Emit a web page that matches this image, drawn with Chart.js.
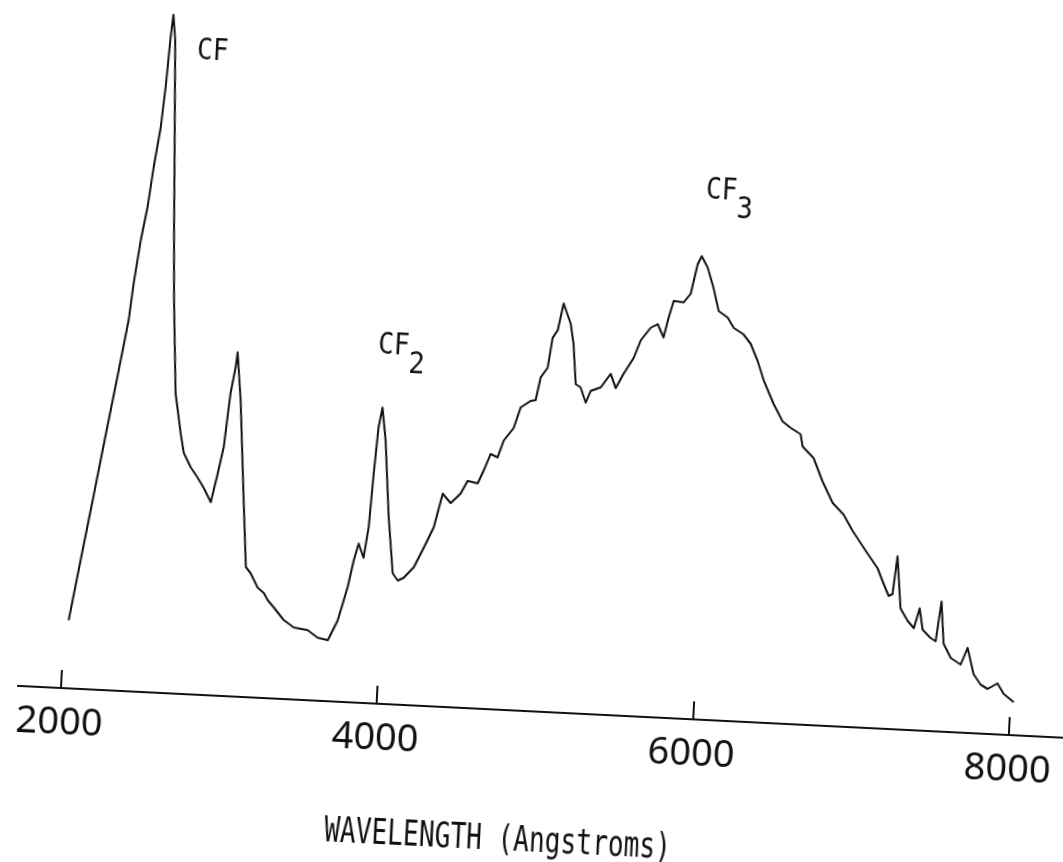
<!DOCTYPE html>
<html>
<head>
<meta charset="utf-8">
<title>CF emission spectrum</title>
<script src="https://cdn.jsdelivr.net/npm/chart.js@4.4.1/dist/chart.umd.min.js"></script>
<style>
html, body { margin: 0; padding: 0; background: #fff; overflow: hidden; width: 1063px; height: 862px; }
/* the scanned plot sits slightly tilted, so the whole canvas is turned about the 2000 tick */
#spectrum { position: absolute; left: 0; top: 0; width: 1120px; height: 880px;
  transform-origin: 60.7px 688px; transform: rotate(2.84deg); }
</style>
</head>
<body>
<canvas id="spectrum" width="1120" height="880"></canvas>
<script>
// wavelength in Angstroms, intensity in arbitrary units (height above the axis)
var wavelength = [2029, 2086, 2143, 2200, 2257, 2314, 2334, 2365, 2398, 2424,
	2456, 2475, 2490, 2501, 2520, 2546, 2573, 2594, 2633, 2678,
	2703, 2751, 2798, 2840, 2889, 2924, 2954, 2980, 3004, 3012,
	3046, 3096, 3131, 3163, 3212, 3252, 3279, 3320, 3386, 3452,
	3541, 3606, 3671, 3727, 3780, 3810, 3836, 3871, 3894, 3909,
	3925, 3944, 3974, 4017, 4060, 4094, 4130, 4191, 4248, 4305,
	4351, 4404, 4464, 4504, 4568, 4602, 4641, 4686, 4719, 4778,
	4816, 4877, 4908, 4933, 4974, 4996, 5026, 5055, 5106, 5130,
	5156, 5188, 5225, 5253, 5315, 5374, 5410, 5456, 5514, 5553,
	5612, 5655, 5696, 5722, 5749, 5812, 5854, 5889, 5912, 5953,
	5996, 6036, 6095, 6136, 6200, 6248, 6298, 6342, 6412, 6474,
	6527, 6592, 6608, 6681, 6745, 6816, 6888, 6951, 7053, 7120,
	7162, 7198, 7222, 7242, 7277, 7326, 7367, 7398, 7423, 7476,
	7509, 7534, 7560, 7610, 7674, 7713, 7759, 7806, 7852, 7913,
	7954, 8021];
var intensity = [68, 129, 189, 250, 310, 371, 408, 451, 485, 525,
	565, 607, 655, 678, 653, 560, 460, 393, 300, 260,
	241, 227, 217, 207, 193, 222, 249, 303, 329, 344,
	296, 197, 130, 124, 110, 105, 98, 91, 79, 72,
	70, 63, 61, 81, 115, 142, 159, 145, 176, 230,
	276, 296, 263, 187, 131, 124, 127, 138, 158, 179,
	213, 204, 214, 227, 225, 238, 255, 252, 269, 282,
	303, 310, 311, 334, 344, 374, 382, 409, 389, 369,
	329, 326, 311, 323, 327, 341, 327, 342, 358, 376,
	389, 393, 380, 400, 417, 416, 425, 455, 463, 452,
	432, 409, 403, 393, 387, 378, 361, 342, 319, 302,
	296, 290, 278, 267, 244, 223, 212, 196, 174, 160,
	145, 133, 135, 173, 121, 109, 102, 122, 101, 93,
	90, 130, 88, 74, 68, 85, 59, 49, 45, 51,
	41, 33];

var tickValues = [2000, 4000, 6000, 8000];

// band labels, placed at (wavelength, intensity)
var bandNames = ["CF", "CF", "CF"];
var bandSubs = ["", "2", "3"];
var bandWave = [2661, 3896, 5918];
var bandLevel = [635, 350, 521];

var axisTitle = "WAVELENGTH (Angstroms)";
var ink = "#111";
var plotterFont = "'DejaVu Sans Mono'";

var labelPlugin = {
	id: "bandLabels",
	afterDraw: function (chart) {
		var ctx = chart.ctx;
		var xs = chart.scales.x;
		var ys = chart.scales.y;
		ctx.save();
		ctx.fillStyle = ink;
		ctx.textAlign = "left";
		ctx.textBaseline = "alphabetic";

		bandNames.forEach(function (name, i) {
			ctx.save();
			ctx.translate(xs.getPixelForValue(bandWave[i]), ys.getPixelForValue(bandLevel[i]));
			ctx.scale(0.87, 1);
			ctx.font = "30px " + plotterFont;
			ctx.fillText(name, 0, 0);
			var w = ctx.measureText(name).width;
			if (bandSubs[i]) {
				ctx.font = "31px " + plotterFont;
				ctx.fillText(bandSubs[i], w, 18);
			}
			ctx.restore();
		});

		// axis title, squeezed to the plotter lettering pitch
		ctx.font = "35px " + plotterFont;
		var tw = ctx.measureText(axisTitle).width;
		ctx.translate(xs.left + 313, xs.top + 140);
		ctx.scale(347 / tw, 1);
		ctx.fillText(axisTitle, 0, 0);
		ctx.restore();
	}
};

var points = wavelength.map(function (w, i) {
	return { x: w, y: intensity[i] };
});

new Chart(document.getElementById("spectrum").getContext("2d"), {
	type: "line",
	data: {
		datasets: [{
			data: points,
			borderColor: ink,
			borderWidth: 2,
			borderJoinStyle: "round",
			pointRadius: 0,
			tension: 0,
			fill: false
		}]
	},
	options: {
		responsive: false,
		animation: false,
		devicePixelRatio: 1,
		layout: { padding: { left: 18, right: 54.7, top: 8, bottom: 0 } },
		plugins: {
			legend: { display: false },
			tooltip: { enabled: false }
		},
		scales: {
			x: {
				type: "linear",
				min: 1730,
				max: 8350,
				afterBuildTicks: function (scale) {
					scale.ticks = tickValues.map(function (v) { return { value: v }; });
				},
				afterFit: function (scale) {
					scale.height = 192;
					scale.paddingLeft = 0;
					scale.paddingRight = 0;
				},
				border: { display: true, color: ink, width: 2 },
				grid: { drawOnChartArea: false, drawTicks: true, tickLength: -18, color: ink, lineWidth: 2 },
				ticks: {
					autoSkip: false,
					maxRotation: 0,
					padding: 30,
					color: ink,
					font: { family: "'Noto Sans'", size: 38 },
					callback: function (v) { return String(v); }
				}
			},
			y: { display: false, min: 0, max: 680 }
		}
	},
	plugins: [labelPlugin]
});
</script>
</body>
</html>
